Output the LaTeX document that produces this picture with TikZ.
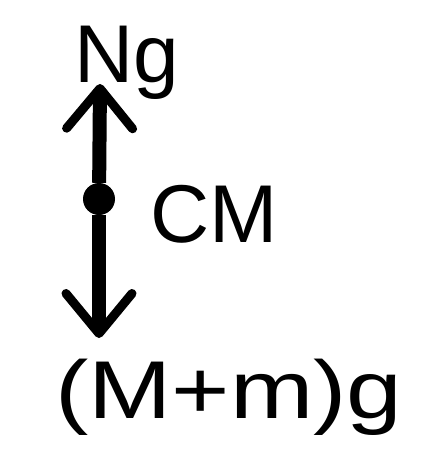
\documentclass[tikz,border=0pt]{standalone}
\usepackage{fontspec}
\setmainfont{Liberation Sans}
\usetikzlibrary{arrows.meta}
\begin{document}
\begin{tikzpicture}[x=1pt,y=-1pt,
  lbl/.style={inner sep=0pt,font=\fontsize{82}{90}\selectfont},
  force/.style={line width=14pt,
    -{Straight Barb[length=40pt,width=66pt,line width=9pt,round]}}]
\useasboundingbox (0,0) rectangle (435,472);
\node[circle, fill, inner sep=0pt, minimum size=32pt] (cm) at (99,199) {};
\coordinate (top) at (100,84);
\coordinate (bot) at (99,338);
\draw[force] (cm) -- (top);
\draw[force] (cm) -- (bot);
\node[lbl, anchor=base west] (ng) at (74,82) {Ng};
\node[lbl, anchor=base west] (cmlabel) at (150,242) {CM};
\node[lbl, anchor=base west, xscale=1.22] (weight) at (55,418) {(M+m)g};
\end{tikzpicture}
\end{document}
